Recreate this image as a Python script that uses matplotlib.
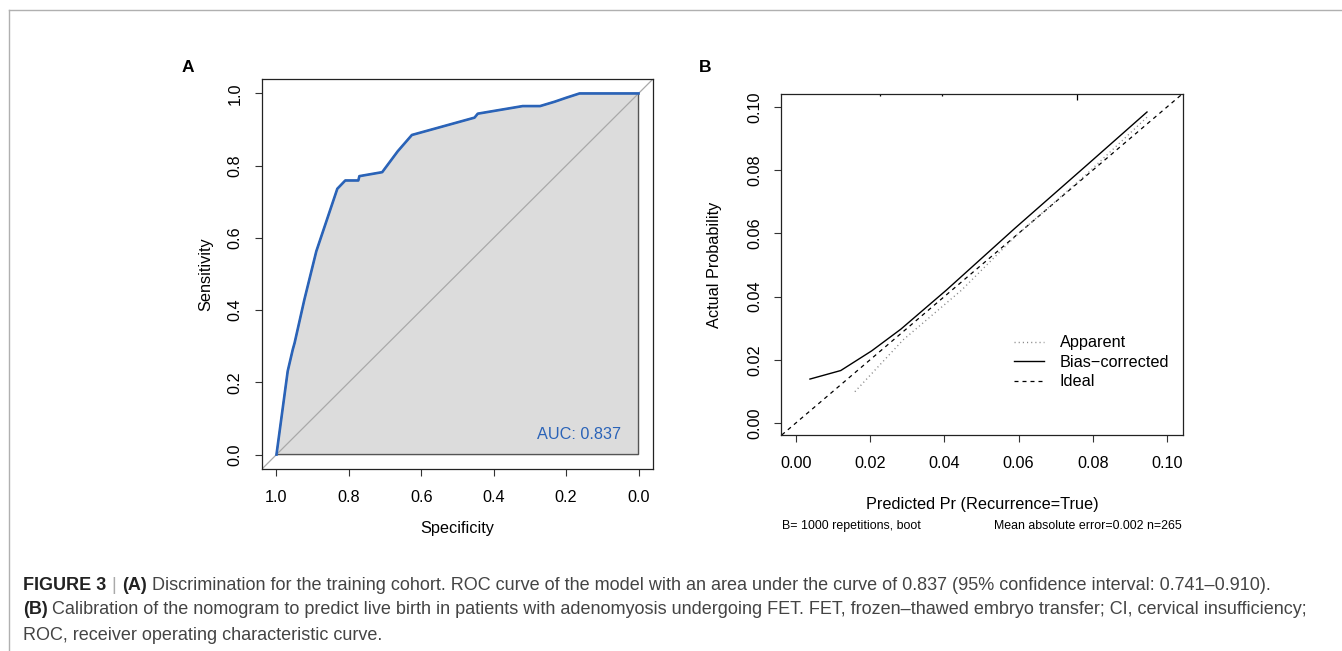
import matplotlib
matplotlib.use("Agg")
import matplotlib.pyplot as plt
from matplotlib.lines import Line2D

plt.rcParams['font.family'] = ['Liberation Sans', 'DejaVu Sans']

W, H = 1342, 651

# ROC (panel A)
roc_spec = [1.0, 0.969, 0.955, 0.950, 0.923, 0.890, 0.832, 0.810, 0.774, 0.771, 0.708,
            0.665, 0.626, 0.453, 0.444, 0.320, 0.272, 0.232, 0.200, 0.163, 0.0]
roc_sens = [0.0, 0.231, 0.291, 0.309, 0.429, 0.563, 0.736, 0.759, 0.759, 0.771, 0.782,
            0.840, 0.885, 0.933, 0.944, 0.965, 0.965, 0.977, 0.988, 1.0, 1.0]
auc_text = "AUC: 0.837"
roc_ticks = [1.0, 0.8, 0.6, 0.4, 0.2, 0.0]
roc_ticklabels = ["1.0", "0.8", "0.6", "0.4", "0.2", "0.0"]

# calibration (panel B)
bc_x = [0.0038, 0.0121, 0.0204, 0.0283, 0.0406, 0.0590, 0.0784, 0.0946]
bc_y = [0.0139, 0.0166, 0.0228, 0.0297, 0.0421, 0.0616, 0.0816, 0.0984]
app_x = [0.0159, 0.0289, 0.0447, 0.0590, 0.0784, 0.0950]
app_y = [0.0099, 0.0263, 0.0421, 0.0589, 0.0788, 0.0972]
rug_x = [0.0228, 0.0393, 0.0757]
rug_freq = [1, 1, 3]
cal_ticks = [0.00, 0.02, 0.04, 0.06, 0.08, 0.10]
cal_ticklabels = ["0.00", "0.02", "0.04", "0.06", "0.08", "0.10"]

caption1 = ("Discrimination for the training cohort. ROC curve of the model with an area under "
            "the curve of 0.837 (95% confidence interval: 0.741\u20130.910).")
caption2 = ("Calibration of the nomogram to predict live birth in patients with adenomyosis "
            "undergoing FET. FET, frozen\u2013thawed embryo transfer; CI, cervical insufficiency;")
caption3 = "ROC, receiver operating characteristic curve."

FS = 11.7


def px_box(left, top, right, bottom):
    return [left / W, 1 - bottom / H, (right - left) / W, (bottom - top) / H]


def r_axes(ax):
    for s in ax.spines.values():
        s.set_color('#222222')
        s.set_linewidth(0.9)
    ax.tick_params(length=5, width=0.8, color='#333333', labelsize=FS)
    ax.tick_params(axis='x', pad=10.0)
    ax.tick_params(axis='y', labelrotation=90)
    for lab in ax.get_yticklabels():
        lab.set_verticalalignment('center')


fig = plt.figure(figsize=(W / 100, H / 100), dpi=100)

# frame lines
fig.add_artist(Line2D([9 / W, 1], [1 - 10 / H, 1 - 10 / H], transform=fig.transFigure,
                      color='#b0b0b0', lw=1.0))
fig.add_artist(Line2D([9 / W, 9 / W], [0, 1 - 10 / H], transform=fig.transFigure,
                      color='#b0b0b0', lw=1.0))

# ---- panel A
ax = fig.add_axes(px_box(262, 79, 653, 469))
ax.fill(roc_spec + [0.0], roc_sens + [0.0], facecolor='#dcdcdc', edgecolor='#555555', lw=1.0)
ax.axline((1, 0), (0, 1), color='#a9a9a9', lw=0.9)
ax.plot(roc_spec, roc_sens, color='#2a63b8', lw=1.9, solid_joinstyle='round')
ax.text(0.047, 0.055, auc_text, color='#2a63b8', fontsize=FS, ha='right', va='center')
ax.set_xlim(1.04, -0.04)
ax.set_ylim(-0.04, 1.04)
ax.set_xticks(roc_ticks)
ax.set_xticklabels(roc_ticklabels)
ax.set_yticks(roc_ticks)
ax.set_yticklabels(roc_ticklabels)
r_axes(ax)
ax.tick_params(axis='y', pad=9.2)
ax.set_xlabel("Specificity", fontsize=FS, va='center')
ax.xaxis.set_label_coords(0.5, (469 - 528) / 390)
ax.set_ylabel("Sensitivity", fontsize=FS, va='center')
ax.yaxis.set_label_coords((205.5 - 262) / 391, 0.5)

# ---- panel B
bx = fig.add_axes(px_box(781, 94, 1183, 435))
bx.axline((0, 0), slope=1, color='black', lw=0.9, dashes=(3.2, 3.2), label='Ideal')
bx.plot(app_x, app_y, color='#888888', lw=1.0, dashes=(0.8, 2.2), label='Apparent')
bx.plot(bc_x, bc_y, color='black', lw=1.0, label='Bias\u2212corrected')
bx.vlines(rug_x, [1 - 0.006 * f for f in rug_freq], 1, color='black', lw=0.9,
          transform=bx.get_xaxis_transform())
bx.set_xlim(-0.004, 0.1043)
bx.set_ylim(-0.0038, 0.1041)
bx.set_xticks(cal_ticks)
bx.set_xticklabels(cal_ticklabels)
bx.set_yticks(cal_ticks)
bx.set_yticklabels(cal_ticklabels)
r_axes(bx)
bx.tick_params(axis='y', pad=8.5)
bx.set_xlabel("Predicted Pr (Recurrence=True)", fontsize=FS, va='center')
bx.xaxis.set_label_coords(0.5, (435 - 505) / 341)
bx.set_ylabel("Actual Probability", fontsize=FS, va='center')
bx.yaxis.set_label_coords((715 - 781) / 402, 0.5)
handles, labels = bx.get_legend_handles_labels()
order = [labels.index('Apparent'), labels.index('Bias\u2212corrected'), labels.index('Ideal')]
bx.legend([handles[i] for i in order], [labels[i] for i in order], frameon=False,
          fontsize=FS, loc='upper left', bbox_to_anchor=(1014 / W, 1 - 335.5 / H),
          bbox_transform=fig.transFigure, borderpad=0, borderaxespad=0,
          handlelength=1.85, handletextpad=0.95, labelspacing=0.27)
fig.text(782 / W, 1 - 526 / H, "B= 1000 repetitions, boot", fontsize=8.9, ha='left', va='center')
fig.text(1182 / W, 1 - 526 / H, "Mean absolute error=0.002 n=265", fontsize=8.9,
         ha='right', va='center')

# panel letters
fig.text(188 / W, 1 - 67 / H, "A", fontsize=12.5, weight='bold', ha='center', va='center')
fig.text(705 / W, 1 - 67 / H, "B", fontsize=12.5, weight='bold', ha='center', va='center')

# ---- caption
cap = fig.add_axes([0, 0, 1, 1])
cap.axis('off')
cap.set_zorder(-1)
csize = 13
t = cap.text(23 / W, 1 - 586 / H, "FIGURE 3", fontsize=csize, weight='bold', color='#222222',
             va='center', transform=fig.transFigure)
t = cap.annotate("|", xy=(1, 0), xycoords=t, xytext=(4, 0), textcoords='offset points',
                 fontsize=csize, color='#aaaaaa', va='bottom')
t = cap.annotate("(A)", xy=(1, 0), xycoords=t, xytext=(4, 0), textcoords='offset points',
                 fontsize=csize, weight='bold', color='#222222', va='bottom')
cap.annotate(caption1, xy=(1, 0), xycoords=t, xytext=(3.5, 0), textcoords='offset points',
             fontsize=csize, color='#444444', va='bottom')
t = cap.text(23 / W, 1 - 610 / H, "(B)", fontsize=csize, weight='bold', color='#222222',
             va='center', transform=fig.transFigure)
cap.annotate(caption2, xy=(1, 0), xycoords=t, xytext=(3, 0), textcoords='offset points',
             fontsize=csize, color='#444444', va='bottom')
cap.text(23 / W, 1 - 635 / H, caption3, fontsize=csize, color='#444444', va='center',
         transform=fig.transFigure)

fig.savefig("out.png", dpi=100)
